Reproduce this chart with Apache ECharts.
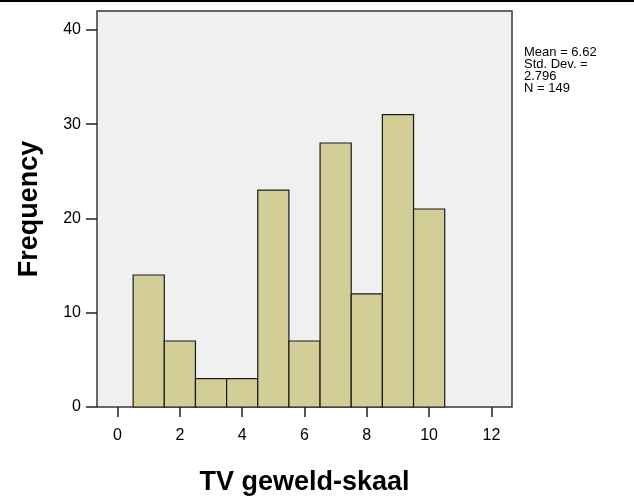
<!DOCTYPE html>
<html>
<head>
<meta charset="utf-8">
<script src="https://cdn.jsdelivr.net/npm/echarts@6/dist/echarts.min.js"></script>
<style>html,body{margin:0;padding:0;background:#fff;}#c{width:634px;height:499px;}</style>
</head>
<body>
<div id="c"></div>
<script>
const binCenters = [1, 2, 3, 4, 5, 6, 7, 8, 9, 10];
const counts = [14, 7, 3, 3, 23, 7, 28, 12, 31, 21];
const xTicks = [0, 2, 4, 6, 8, 10, 12];
const yTicks = [0, 10, 20, 30, 40];
const statsLines = ['Mean = 6.62', 'Std. Dev. =', '2.796', 'N = 149'];
const xTitle = 'TV geweld-skaal';
const yTitle = 'Frequency';

const chart = echarts.init(document.getElementById('c'), null, {renderer: 'canvas'});
const font = 'Liberation Sans, Arial, sans-serif';

chart.setOption({
  animation: false,
  backgroundColor: '#ffffff',
  grid: {left: 97, right: 122, top: 11, bottom: 92, show: true, containLabel: false,
         outerBoundsMode: 'none',
         backgroundColor: '#f0f0f0', borderColor: '#3a3a3a', borderWidth: 1.5},
  xAxis: {
    type: 'value', min: -0.66, max: 12.66,
    name: xTitle, nameLocation: 'middle', nameGap: 62,
    nameTextStyle: {fontFamily: font, fontWeight: 'bold', fontSize: 27, color: '#000'},
    axisLine: {show: false, onZero: false},
    splitLine: {show: false},
    axisTick: {show: true, inside: false, customValues: xTicks, length: 10, lineStyle: {color: '#222', width: 1.5}},
    axisLabel: {customValues: xTicks, margin: 21, fontFamily: font, fontSize: 16, color: '#000'}
  },
  yAxis: {
    type: 'value', min: 0, max: 42,
    name: yTitle, nameLocation: 'middle', nameGap: 54,
    nameTextStyle: {fontFamily: font, fontWeight: 'bold', fontSize: 27, color: '#000'},
    axisLine: {show: false, onZero: false},
    splitLine: {show: false},
    axisTick: {show: true, inside: false, customValues: yTicks, length: 11, lineStyle: {color: '#222', width: 1.5}},
    axisLabel: {customValues: yTicks, margin: 16, fontFamily: font, fontSize: 16, color: '#000'}
  },
  graphic: [
    {type: 'rect', left: 0, top: 0, shape: {width: 634, height: 2}, style: {fill: '#000'}},
    {type: 'text', left: 524, top: 46, style: {
      text: statsLines.join('\n'), font: '13px ' + font, lineHeight: 12, fill: '#000'}}
  ],
  series: [{
    type: 'custom',
    data: binCenters.map((c, i) => [c, counts[i]]),
    renderItem: function (params, api) {
      const c = api.value(0), v = api.value(1);
      const p0 = api.coord([c - 0.5, v]);
      const p1 = api.coord([c + 0.5, 0]);
      return {
        type: 'rect',
        shape: {x: p0[0], y: p0[1], width: p1[0] - p0[0], height: p1[1] - p0[1]},
        style: {fill: '#d3ce97', stroke: '#1a1a1a', lineWidth: 1.2}
      };
    }
  }]
});
</script>
</body>
</html>
